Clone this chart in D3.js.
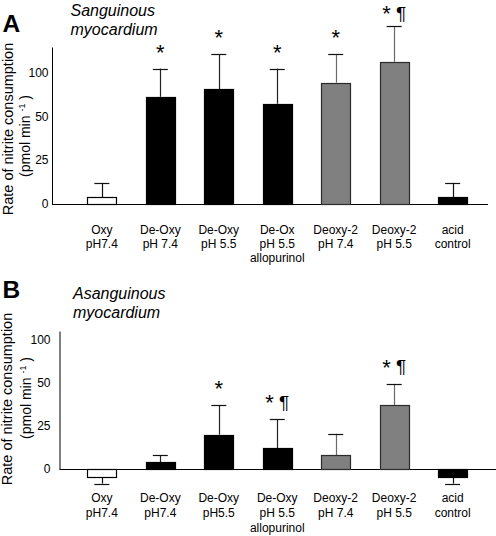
<!DOCTYPE html>
<html><head><meta charset="utf-8">
<script src="https://cdn.jsdelivr.net/npm/d3@7"></script>
<style>
body{margin:0;background:#fff}
svg{display:block;font-family:"Liberation Sans",Arial,sans-serif}
</style>
</head><body>
<svg id="c" width="496" height="536"></svg>
<script>
// ---- data ----
const categories = ["Oxy pH7.4","De-Oxy pH7.4","De-Oxy pH5.5","De-Oxy pH5.5 allopurinol","Deoxy-2 pH7.4","Deoxy-2 pH5.5","acid control"];
const labelsA = [["Oxy","pH7.4"],["De-Oxy","pH 7.4"],["De-Oxy","pH 5.5"],["De-Ox","pH 5.5","allopurinol"],["Deoxy-2","pH 7.4"],["Deoxy-2","pH 5.5"],["acid","control"]];
const labelsB = [["Oxy","pH7.4"],["De-Oxy","pH7.4"],["De-Oxy","pH5.5"],["De-Oxy","pH 5.5","allopurinol"],["Deoxy-2","pH 7.4"],["Deoxy-2","pH 5.5"],["acid","control"]];
const groups = ["oxy","deoxy","deoxy","deoxy","deoxy2","deoxy2","acid"];
const meansA = [4, 73, 81.5, 65, 89, 113, 4];
const sdA    = [8, 32, 40, 40, 33, 41, 8];
const meansB = [-4.5, 4, 20, 12, 8, 37, -4.5];
const sdB    = [4, 4, 17, 17, 12.5, 12.5, 4];
const annA = ["", "*", "*", "*", "*", "*¶", ""];
const annB = ["", "", "*", "*¶", "", "*¶", ""];
const yTicks = [0, 25, 50, 100];
const titleA = ["Sanguinous","myocardium"];
const titleB = ["Asanguinous","myocardium"];

// ---- styles ----
const fillOf = {oxy:"#ffffff", deoxy:"#000000", deoxy2:"#808080", acid:"#000000"};
const strokeOf = {oxy:"#000000", deoxy:"#000000", deoxy2:"#2b2b2b", acid:"#000000"};
const errOf = {oxy:"#111", deoxy:"#222", deoxy2:"#6a6a6a", acid:"#111"};

const svg = d3.select("#c");
const x = d3.scaleBand().domain(categories).range([58, 496.5]).paddingInner(0.5).paddingOuter(0.5);

function panel(cfg){
  const g = svg.append("g");
  const y = d3.scaleLinear().domain(cfg.ydom).range(cfg.yrange);
  // axis
  const ax = g.append("g").attr("transform",`translate(${cfg.axisX},0)`)
    .call(d3.axisLeft(y).tickValues(yTicks).tickSize(0).tickSizeOuter(0).tickPadding(cfg.pad).tickFormat(d3.format("d")));
  ax.select(".domain").attr("stroke","#000").attr("stroke-width",1);
  ax.selectAll("text").attr("font-size",12).attr("font-family","Liberation Sans, Arial, sans-serif").attr("fill","#000").attr("dy","0.25em");
  // baseline
  g.append("line").attr("x1",cfg.axisX).attr("x2",cfg.baseEnd)
    .attr("y1",Math.round(y(0))+0.5).attr("y2",Math.round(y(0))+0.5).attr("stroke","#000");
  const data = categories.map((c,i)=>({c,i,m:cfg.means[i],s:cfg.sds[i],grp:groups[i],lab:cfg.labels[i],ann:cfg.ann[i]}));
  // error bars
  const eb = g.selectAll(".eb").data(data).enter().append("g");
  eb.append("line")
    .attr("x1",d=>Math.round(x(d.c)+x.bandwidth()/2)+0.5).attr("x2",d=>Math.round(x(d.c)+x.bandwidth()/2)+0.5)
    .attr("y1",d=>y(d.m)).attr("y2",d=>y(d.m + (d.m<0?-d.s:d.s)))
    .attr("stroke",d=>errOf[d.grp]).attr("stroke-width",1.2);
  eb.append("line")
    .attr("x1",d=>x(d.c)+x.bandwidth()/2-7.5).attr("x2",d=>x(d.c)+x.bandwidth()/2+7.5)
    .attr("y1",d=>Math.round(y(d.m + (d.m<0?-d.s:d.s)))+0.5).attr("y2",d=>Math.round(y(d.m + (d.m<0?-d.s:d.s)))+0.5)
    .attr("stroke","#111").attr("stroke-width",1.2);
  // bars
  g.selectAll(".bar").data(data).enter().append("rect")
    .attr("x",d=>Math.round(x(d.c))+0.5).attr("width",Math.round(x.bandwidth()))
    .attr("y",d=>Math.round(Math.min(y(d.m),y(0)))+0.5)
    .attr("height",d=>Math.max(1,Math.round(Math.abs(y(d.m)-y(0)))))
    .attr("fill",d=>fillOf[d.grp]).attr("stroke",d=>strokeOf[d.grp]).attr("stroke-width",1.2);
  // annotations
  const an = g.selectAll(".an").data(data.filter(d=>d.ann)).enter().append("text")
    .attr("x",d=>x(d.c)+x.bandwidth()/2).attr("y",d=>Math.max(21,y(d.m+d.s)-9))
    .attr("text-anchor","middle").style("white-space","pre").attr("fill","#000");
  an.append("tspan").attr("font-size",22).text("*");
  an.filter(d=>d.ann.includes("¶")).append("tspan").attr("font-size",19).attr("dy",-1.5).text("\u00a0¶");
  // category labels
  const cl = g.selectAll(".cl").data(data).enter().append("text")
    .attr("text-anchor","middle").attr("font-size",12).attr("fill","#000");
  cl.selectAll("tspan").data(d=>d.lab.map(t=>({t,cx:x(d.c)+x.bandwidth()/2}))).enter().append("tspan")
    .attr("x",d=>d.cx).attr("y",(d,j)=>cfg.labY + j*cfg.labDy).text(d=>d.t);
  // panel title
  g.append("text").attr("x",2.5).attr("y",cfg.letterY).attr("font-size",24.5).attr("font-weight","bold").text(cfg.letter);
  g.selectAll(".tt").data(cfg.title).enter().append("text")
    .attr("x",cfg.titleX).attr("y",(d,j)=>cfg.titleY + j*18.5)
    .attr("font-size",16).attr("font-style","italic").text(d=>d);
  // y-axis title
  g.append("text").attr("transform",`translate(${cfg.yt1x},${cfg.yt1y}) rotate(-90)`)
    .attr("text-anchor","middle").attr("font-size",14.5).text("Rate of nitrite consumption");
  const t2 = g.append("text").attr("transform",`translate(${cfg.yt2x},${cfg.yt2y}) rotate(-90)`)
    .attr("text-anchor","middle").attr("font-size",14).style("white-space","pre");
  t2.append("tspan").text("(pmol min ");
  t2.append("tspan").attr("font-size",9).attr("dy",-5).text("-1");
  t2.append("tspan").attr("dy",5).text(" )");
}

panel({means:meansA, sds:sdA, labels:labelsA, ann:annA,
  ydom:[0,25,50,100,130], yrange:[204,160,117,73,47], axisX:52, pad:3.5, baseEnd:488,
  labY:233.5, labDy:14.3, letter:"A", letterY:32, title:titleA, titleX:70.5, titleY:16,
  yt1x:12.5, yt1y:129, yt2x:29.5, yt2y:136});
panel({means:meansB, sds:sdB, labels:labelsB, ann:annB,
  ydom:[0,25,50,100,110], yrange:[469,426,383,340,331], axisX:59.5, pad:9, baseEnd:496,
  labY:502, labDy:14.8, letter:"B", letterY:298, title:titleB, titleX:73, titleY:299,
  yt1x:11.5, yt1y:399, yt2x:30.5, yt2y:398});
</script>
</body></html>
